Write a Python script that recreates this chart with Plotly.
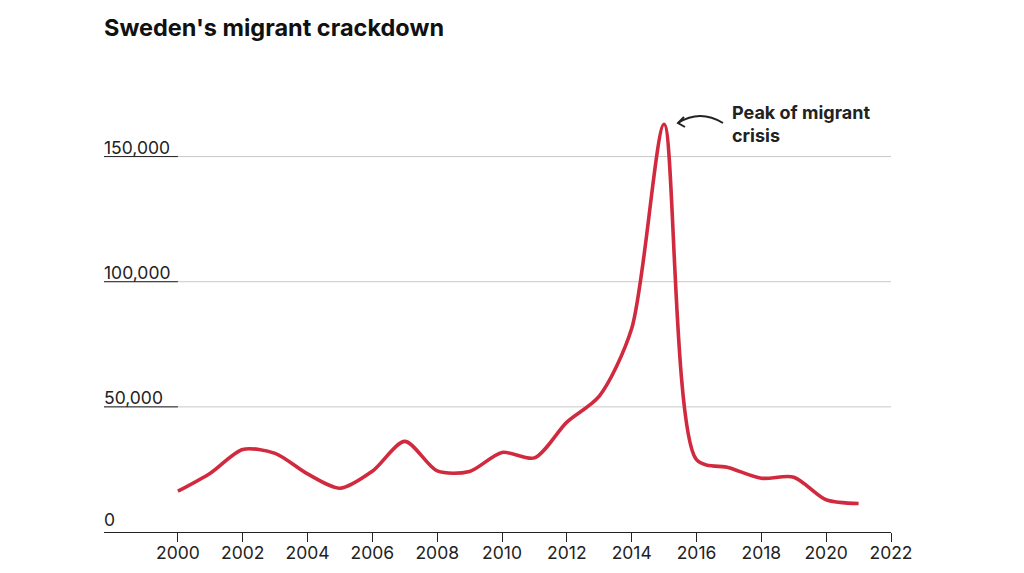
import plotly.graph_objects as go

years = list(range(2000, 2022))
applications = [16300, 23500, 33000, 31400, 23200, 17500, 24300, 36200, 24400, 24200,
                31800, 29600, 43900, 54300, 81300, 162900, 28900, 25700, 21500, 21900,
                12900, 11400]
y_ticks = [50000, 100000, 150000]
y_tick_labels = ["50,000", "100,000", "150,000"]
x_ticks = list(range(2000, 2023, 2))

title = "Sweden's migrant crackdown"
note = "Peak of migrant<br>crisis"

RED = "#d12a3f"
FONT = "Inter, Roboto, sans-serif"

OFF = 8  # page offset
X0, X1 = 1997.72, 2022.0
Y0, Y1 = 0, 175000
W, H = 1024 - OFF, 573 - OFF
L, R, T, B = 104 - OFF, 133, 94 - OFF, 41
pw = W - L - R
ph = H - T - B

def px(xp, yp):
    # reference pixel coords -> data coords
    xp -= OFF
    yp -= OFF
    return (X0 + (xp - L) / pw * (X1 - X0), Y0 + (H - B - yp) / ph * (Y1 - Y0))

fig = go.Figure()
fig.add_trace(go.Scatter(x=years, y=applications, mode="lines",
                         line=dict(color=RED, width=3.6, shape="spline", smoothing=0.8),
                         hoverinfo="skip"))

shapes = []
for v in y_ticks:
    shapes.append(dict(type="line", xref="paper", yref="y", x0=0, x1=1, y0=v, y1=v,
                       line=dict(color="#c8c8c8", width=1), layer="below"))
    shapes.append(dict(type="line", xref="paper", yref="y", x0=0, x1=(2000 - X0) / (X1 - X0),
                       y0=v, y1=v, line=dict(color="#222", width=1), layer="below"))

# curved arrow
sx, sy = px(723, 123)
cx, cy = px(700, 109)
ex, ey = px(678, 123)
a1x, a1y = px(684, 117)
a2x, a2y = px(685, 127)
shapes.append(dict(type="path", xref="x", yref="y",
                   path=f"M {sx},{sy} Q {cx},{cy} {ex},{ey}",
                   line=dict(color="#222", width=2)))
shapes.append(dict(type="path", xref="x", yref="y",
                   path=f"M {a1x},{a1y} L {ex},{ey} L {a2x},{a2y}",
                   line=dict(color="#222", width=2)))

annotations = []
for v, lab in zip(y_ticks, y_tick_labels):
    annotations.append(dict(xref="paper", yref="y", x=0, y=v, text=lab, showarrow=False,
                            xanchor="left", yanchor="bottom", yshift=-3, xshift=-2,
                            font=dict(family=FONT, size=17.5, color="#222")))
annotations.append(dict(xref="paper", yref="y", x=0, y=0, text="0", showarrow=False,
                        xanchor="left", yanchor="bottom", yshift=0, xshift=-2,
                        font=dict(family=FONT, size=17.5, color="#222")))
nx, ny = px(730, 100)
annotations.append(dict(xref="x", yref="y", x=nx, y=ny, text=f"<b>{note}</b>", showarrow=False,
                        xanchor="left", yanchor="top", align="left",
                        font=dict(family=FONT, size=18, color="#222")))

fig.update_layout(
    width=W, height=H,
    margin=dict(l=L, r=R, t=T, b=B, autoexpand=False),
    paper_bgcolor="white", plot_bgcolor="white",
    showlegend=False,
    title=dict(text=f"<b>{title}</b>", x=(104 - OFF) / W, xanchor="left",
               y=1 - (28 - OFF) / H, yanchor="middle",
               font=dict(family=FONT, size=23.5, color="#111")),
    xaxis=dict(range=[X0, X1], tickmode="array", tickvals=x_ticks, automargin=False,
               ticks="outside", ticklen=9, tickcolor="#222", tickwidth=1,
               ticklabelstandoff=-4,
               showline=True, linecolor="#222", linewidth=1.2, showgrid=False, zeroline=False,
               tickfont=dict(family=FONT, size=17.5, color="#222")),
    yaxis=dict(range=[Y0, Y1], showticklabels=False, showgrid=False, zeroline=False,
               showline=False, ticks="", automargin=False),
    shapes=shapes, annotations=annotations,
)
fig.write_html("out.html")
